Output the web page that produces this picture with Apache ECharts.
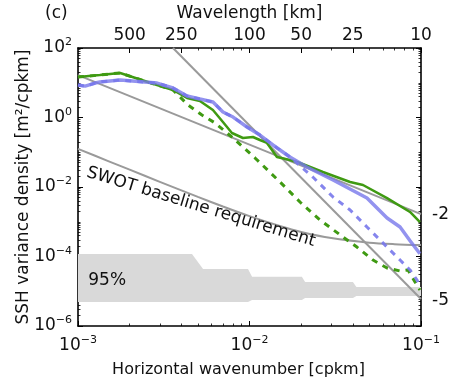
<!DOCTYPE html>
<html><head><meta charset="utf-8">
<script src="https://cdn.jsdelivr.net/npm/echarts@6/dist/echarts.min.js"></script>
<style>html,body{margin:0;padding:0;background:#fff}#c{width:450px;height:379px}</style>
</head><body><div id="c"></div>
<script>
// ---- data (k in cpkm, S in m^2/cpkm) ----
const greenSolid = [[0.001,14.6],[0.00134,16.7],[0.00176,19.1],[0.00289,8.6],[0.00358,6.2],[0.00432,3.64],[0.00514,2.99],[0.00612,1.64],[0.0070,0.743],[0.0079,0.358],[0.00916,0.257],[0.01047,0.275],[0.0115,0.225],[0.01265,0.185],[0.01445,0.073],[0.0172,0.0598],[0.0197,0.049],[0.0268,0.027],[0.0386,0.0139],[0.0459,0.0114],[0.0634,0.0048],[0.0863,0.00191],[0.0986,0.00098]];
const greenDashed = [[0.001,14.6],[0.00134,16.7],[0.00176,19.1],[0.00289,8.6],[0.00358,6.2],[0.00438,2.29],[0.00528,1.18],[0.0063,0.695],[0.00802,0.257],[0.01077,0.0684],[0.01507,0.0139],[0.0197,0.0037],[0.0258,0.00112],[0.0351,3.64e-4],[0.0423,1.87e-4],[0.0525,7.9e-5],[0.0634,4.67e-5],[0.0755,3.83e-5],[0.084,4.09e-5],[0.0923,1.85e-5],[0.0986,1.09e-5]];
const blueSolid = [[0.001,8.6],[0.0011,8.0],[0.00126,9.8],[0.00134,10.5],[0.00176,12.0],[0.00289,9.8],[0.00358,7.06],[0.00432,4.16],[0.00514,3.4],[0.00612,2.79],[0.0070,1.44],[0.00802,1.03],[0.00967,0.533],[0.0115,0.313],[0.0137,0.162],[0.0172,0.073],[0.0216,0.0377],[0.0307,0.0159],[0.0484,0.0048],[0.0634,0.00128],[0.0755,7.06e-4],[0.0863,2.85e-4],[0.0986,1.2e-4]];
const blueDashed = [[0.001,8.6],[0.0011,8.0],[0.00126,9.8],[0.00134,10.5],[0.00176,12.0],[0.00289,9.8],[0.00358,7.06],[0.00432,4.16],[0.00514,3.4],[0.00612,2.79],[0.0070,1.44],[0.00802,1.03],[0.00967,0.533],[0.0115,0.313],[0.0137,0.162],[0.0172,0.073],[0.0234,0.0194],[0.0307,0.00515],[0.0386,0.00218],[0.0484,7.06e-4],[0.0634,1.87e-4],[0.0755,7.9e-5],[0.0863,4.1e-5],[0.0948,2.1e-5],[0.0986,1.32e-5]];
const slopeMinus2 = [[0.001,16.6],[0.1,0.00166]];
const slopeMinus5 = [[0.00358,100],[0.1,6e-6]];
const swotRequirement = [[0.001,0.1252],[0.0015,0.0558],[0.002,0.0315],[0.003,0.0141],[0.005,0.0052],[0.007,0.00275],[0.01,0.00145],[0.015,7.56e-4],[0.02,5.1e-4],[0.03,3.4e-4],[0.05,2.5e-4],[0.07,2.26e-4],[0.1,2.13e-4]];
const bandUpper = [[0.001,1.18e-4],[0.00462,1.18e-4],[0.00536,4.4e-5],[0.0098,4.4e-5],[0.01035,2.6e-5],[0.0202,2.6e-5],[0.0211,1.86e-5],[0.0401,1.86e-5],[0.042,1.32e-5],[0.1,1.32e-5]];
const bandLower = [[0.001,4.9e-6],[0.0098,4.9e-6],[0.01035,5.6e-6],[0.0202,5.6e-6],[0.0211,6.4e-6],[0.0401,6.4e-6],[0.042,7.3e-6],[0.1,7.3e-6]];
// ---- tick values ----
const xMajor = [0.001, 0.01, 0.1];
const yMajor = [1e-6, 1e-4, 1e-2, 1, 100];
const topMajor = [0.002, 0.004, 0.01, 0.02, 0.04, 0.1]; // 500,250,100,50,25,10 km
const xMinor = [];
[0.001, 0.01].forEach(d => { for (let m = 2; m <= 9; m++) xMinor.push(+(m * d).toPrecision(3)); });
const yMinor = [];
[1e-6,1e-5,1e-4,1e-3,1e-2,1e-1,1,10].forEach((d,i) => { if (i % 2 === 1) yMinor.push(d); for (let m = 2; m <= 9; m++) yMinor.push(+(m * d).toPrecision(3)); });

const FONT = 'DejaVu Sans';
const rich = {
  b: {fontFamily: FONT, fontSize: 17, color: '#111'},
  s: {fontFamily: FONT, fontSize: 11, color: '#111', padding: [0, 0, 11, 0]}
};
function powLabel(v) {
  const e = Math.round(Math.log10(v));
  return '{b|10}{s|' + (e < 0 ? '\u2212' + (-e) : e) + '}';
}
const lineBlack = {show: true, onZero: false, lineStyle: {color: '#000', width: 1.6}};
const MAJ = {color: '#000', width: 1};
const MIN = {color: '#000', width: 0.8};
function majorAxis(extra) {
  return Object.assign({type: 'log', logBase: 10, splitLine: {show: false}, minorTick: {show: false}, minorSplitLine: {show: false}}, extra);
}

const chart = echarts.init(document.getElementById('c'), null, {renderer: 'canvas'});
chart.setOption({
  animation: false,
  backgroundColor: '#fff',
  grid: {left: 78, right: 29, top: 48, bottom: 53, containLabel: false, outerBoundsMode: 'none'},
  xAxis: [
    majorAxis({min: 0.001, max: 0.1, position: 'bottom', axisLine: lineBlack,
      axisTick: {show: true, inside: true, length: 5, lineStyle: MAJ, customValues: xMajor},
      axisLabel: {show: true, customValues: xMajor, formatter: powLabel, rich: rich, margin: 9},
      name: 'Horizontal wavenumber [cpkm]', nameLocation: 'middle', nameGap: 36,
      nameTextStyle: {fontFamily: FONT, fontSize: 16, color: '#111', padding: [0, 22, 0, 0]}}),
    majorAxis({min: 0.001, max: 0.1, position: 'bottom', axisLine: {show: false, onZero: false},
      axisTick: {show: true, inside: true, length: 2.5, lineStyle: MIN, customValues: xMinor},
      axisLabel: {show: false}}),
    majorAxis({min: 0.001, max: 0.1, position: 'top', axisLine: lineBlack,
      axisTick: {show: true, inside: true, length: 5, lineStyle: MAJ, customValues: topMajor},
      axisLabel: {show: true, customValues: topMajor, formatter: v => String(Math.round(1 / v)), fontFamily: FONT, fontSize: 17, color: '#111', margin: 4},
      name: 'Wavelength [km]', nameLocation: 'middle', nameGap: 24,
      nameTextStyle: {fontFamily: FONT, fontSize: 17, color: '#111'}}),
    majorAxis({min: 0.001, max: 0.1, position: 'top', axisLine: {show: false, onZero: false},
      axisTick: {show: true, inside: true, length: 2.5, lineStyle: MIN, customValues: xMinor},
      axisLabel: {show: false}})
  ],
  yAxis: [
    majorAxis({min: 1e-6, max: 100, position: 'left', axisLine: lineBlack,
      axisTick: {show: true, inside: true, length: 5, lineStyle: MAJ, customValues: yMajor},
      axisLabel: {show: true, customValues: yMajor, formatter: powLabel, rich: rich, margin: 6},
      name: 'SSH variance density [m\u00b2/cpkm]', nameLocation: 'middle', nameGap: 46, nameMoveOverlap: false,
      nameTextStyle: {fontFamily: FONT, fontSize: 17, color: '#111'}}),
    majorAxis({min: 1e-6, max: 100, position: 'left', axisLine: {show: false, onZero: false},
      axisTick: {show: true, inside: true, length: 2.5, lineStyle: MIN, customValues: yMinor},
      axisLabel: {show: false}}),
    majorAxis({min: 1e-6, max: 100, position: 'right', axisLine: lineBlack,
      axisTick: {show: true, inside: true, length: 5, lineStyle: MAJ, customValues: yMajor},
      axisLabel: {show: false}}),
    majorAxis({min: 1e-6, max: 100, position: 'right', axisLine: {show: false, onZero: false},
      axisTick: {show: true, inside: true, length: 2.5, lineStyle: MIN, customValues: yMinor},
      axisLabel: {show: false}})
  ],
  series: [
    {type: 'custom', name: 'band', xAxisIndex: 0, yAxisIndex: 0, z: 1, clip: true,
      data: [0],
      renderItem: function (params, api) {
        const pts = bandUpper.map(p => api.coord(p)).concat(bandLower.slice().reverse().map(p => api.coord(p)));
        return {type: 'polygon', shape: {points: pts}, style: {fill: '#d9d9d9', stroke: null}};
      }},
    {type: 'line', name: 'k-2', data: slopeMinus2, symbol: 'none', z: 2, clip: true,
      lineStyle: {color: '#9a9a9a', width: 2},
      endLabel: {show: true, formatter: '-2', distance: 11, fontFamily: FONT, fontSize: 17, color: '#111'}},
    {type: 'line', name: 'k-5', data: slopeMinus5, symbol: 'none', z: 2, clip: true,
      lineStyle: {color: '#9a9a9a', width: 2},
      endLabel: {show: true, formatter: '-5', distance: 11, offset: [0, 2], fontFamily: FONT, fontSize: 17, color: '#111'}},
    {type: 'line', name: 'SWOT', data: swotRequirement, symbol: 'none', smooth: 0.3, z: 2, clip: true,
      lineStyle: {color: '#9a9a9a', width: 2},
      markPoint: {symbol: 'circle', symbolSize: 0, silent: true, animation: false,
        itemStyle: {color: 'rgba(0,0,0,0)'},
        data: [
          {coord: [0.00521, 0.00265], label: {show: true, position: 'inside', formatter: 'SWOT baseline requirement', rotate: -17, fontFamily: FONT, fontSize: 17, color: '#111'}},
          {coord: [0.00148, 2.0e-5], label: {show: true, position: 'inside', formatter: '95%', fontFamily: FONT, fontSize: 17, color: '#111'}}
        ]}},
    {type: 'line', name: 'green', data: greenSolid, symbol: 'none', z: 3, clip: true,
      lineStyle: {color: '#3f9a12', width: 2.5}},
    {type: 'line', name: 'greenDashed', data: greenDashed, symbol: 'none', z: 3, clip: true,
      lineStyle: {color: '#3f9a12', width: 3, type: [6, 6]}},
    {type: 'line', name: 'blue', data: blueSolid, symbol: 'none', z: 4, clip: true,
      lineStyle: {color: 'rgba(120,120,235,0.8)', width: 3.5}},
    {type: 'line', name: 'blueDashed', data: blueDashed, symbol: 'none', z: 4, clip: true,
      lineStyle: {color: 'rgba(120,120,235,0.9)', width: 3, type: [6, 6]}}
  ],
  graphic: [
    {type: 'text', left: 45, top: 5, style: {text: '(c)', fontFamily: FONT, fontSize: 17, fill: '#111'}}
  ]
});
</script>
</body></html>
